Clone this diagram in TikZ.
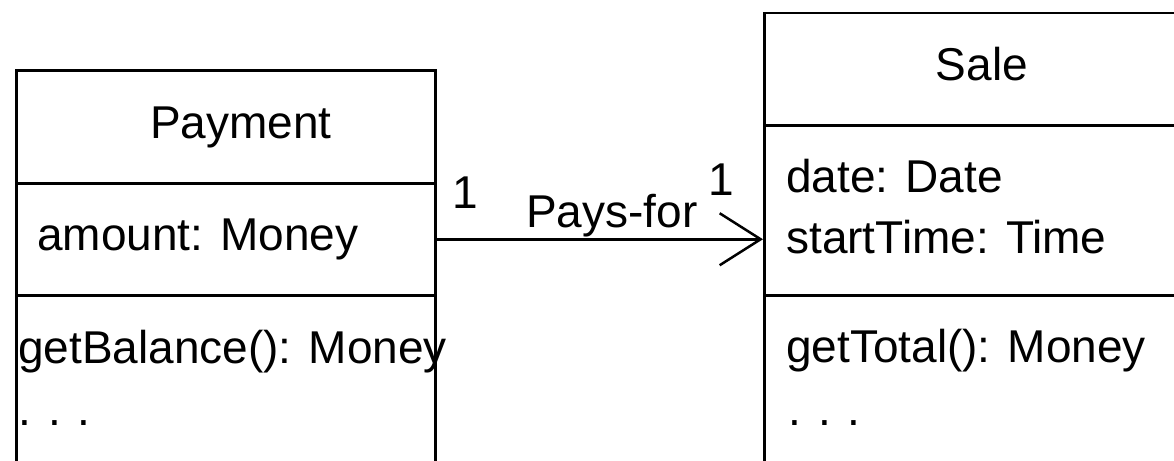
\documentclass[tikz,border=0pt]{standalone}
\usepackage{fontspec}
\setmainfont{Liberation Sans}
\usetikzlibrary{arrows.meta}
\begin{document}
\begin{tikzpicture}[x=1pt,y=-1pt,
  comp/.style={draw, line width=2.5pt, rectangle, inner sep=0pt, anchor=north west},
  txt/.style={anchor=base west, inner sep=0pt, font=\fontsize{46}{55}\selectfont},
  ctxt/.style={anchor=base, inner sep=0pt, font=\fontsize{46}{55}\selectfont},
  assoc/.style={line width=2.5pt, -{Straight Barb[length=41pt,width=52pt]}}]
\useasboundingbox (0,0) rectangle (1174,460);
\clip (0,0) rectangle (1174,460);
% Payment class
\node[comp, minimum width=419pt, minimum height=113pt] (payname) at (15,69) {};
\node[comp, minimum width=419pt, minimum height=112pt] (payattr) at (15,182) {};
\node[comp, minimum width=419pt, minimum height=200pt] (payops) at (15,294) {};
\node[ctxt] (paytitle) at (241,138) {Payment};
\node[txt] (payamount) at (37,250) {amount: Money};
\node[txt] (paybal) at (18,363) {getBalance(): Money};
\node[txt] (paydots) at (18,425) {. . .};
% Sale class
\node[comp, minimum width=460pt, minimum height=112pt] (salename) at (763,12) {};
\node[comp, minimum width=460pt, minimum height=170pt] (saleattr) at (763,124) {};
\node[comp, minimum width=460pt, minimum height=200pt] (saleops) at (763,294) {};
\node[ctxt] (saletitle) at (982,80) {Sale};
\node[txt] (saledate) at (786,192) {date: Date};
\node[txt] (saletime) at (786,253) {startTime: Time};
\node[txt] (saletotal) at (786,362) {getTotal(): Money};
\node[txt] (saledots) at (788,425) {. . .};
% association
\draw[assoc] (payattr.east) -- (payattr.east -| saleattr.west);
\node[txt] (mult1) at (452,208) {1};
\node[txt] (assocname) at (526,227) {Pays-for};
\node[txt] (mult2) at (708,195) {1};
\end{tikzpicture}
\end{document}
